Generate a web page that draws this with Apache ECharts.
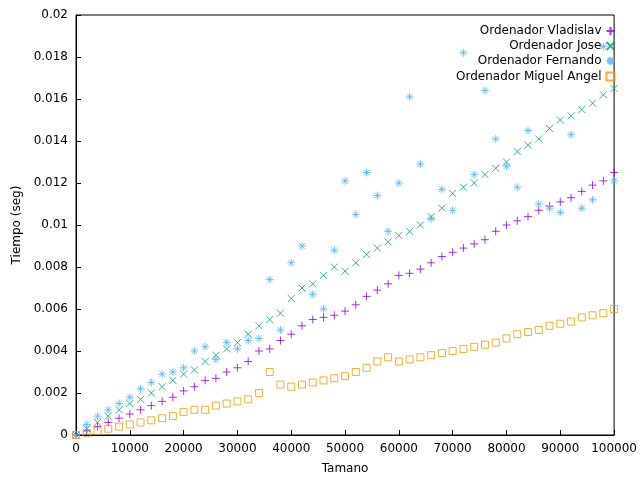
<!DOCTYPE html>
<html>
<head>
<meta charset="utf-8">
<script src="https://cdn.jsdelivr.net/npm/echarts@6/dist/echarts.min.js"></script>
</head>
<body style="margin:0">
<div id="main" style="width:640px;height:480px"></div>
<script>
var tamano = [];
for (var i = 0; i <= 50; i++) tamano.push(i * 2000);
var vladislav = [0,0.0002,0.0004,0.0006,0.0008,0.0010,0.0012,0.0014,0.0016,0.0018,0.0021,0.0023,0.0026,0.0027,0.0030,0.0032,0.0035,0.0040,0.0041,0.0045,0.0048,0.0052,0.0055,0.0056,0.0057,0.0059,0.0062,0.0066,0.0069,0.0072,0.0076,0.0077,0.0079,0.0082,0.0085,0.0087,0.0089,0.0091,0.0093,0.0097,0.0100,0.0102,0.0104,0.0107,0.0109,0.0111,0.0113,0.0116,0.0119,0.0121,0.0125];
var jose = [0,0.0003,0.0006,0.0009,0.0012,0.0015,0.0017,0.0020,0.0023,0.0026,0.0029,0.0031,0.0035,0.0038,0.0041,0.0044,0.0048,0.0052,0.0055,0.0058,0.0065,0.0070,0.0072,0.0076,0.0080,0.0078,0.0082,0.0086,0.0089,0.0092,0.0095,0.0097,0.0100,0.0104,0.0108,0.0115,0.0118,0.0120,0.0124,0.0127,0.0130,0.0135,0.0138,0.0141,0.0146,0.0150,0.0152,0.0155,0.0158,0.0162,0.0165];
var fernando = [0,0.0005,0.0009,0.0012,0.0015,0.0018,0.0022,0.0025,0.0029,0.0030,0.0032,0.0040,0.0042,0.0036,0.0044,0.0041,0.0045,0.0046,0.0074,0.0050,0.0082,0.0090,0.0067,0.0060,0.0088,0.0121,0.0105,0.0125,0.0114,0.0097,0.0120,0.0161,0.0129,0.0103,0.0117,0.0107,0.0182,0.0124,0.0164,0.0141,0.0128,0.0118,0.0145,0.0110,0.0108,0.0106,0.0143,0.0108,0.0112,0.0185,0.0121];
var miguel = [0,0.0001,0.0002,0.0003,0.0004,0.0005,0.0006,0.0007,0.0008,0.0009,0.0011,0.0012,0.0012,0.0014,0.0015,0.0016,0.0017,0.0020,0.0030,0.0024,0.0023,0.0024,0.0025,0.0026,0.0027,0.0028,0.0030,0.0032,0.0035,0.0037,0.0035,0.0036,0.0037,0.0038,0.0039,0.0040,0.0041,0.0042,0.0043,0.0044,0.0046,0.0048,0.0049,0.0050,0.0052,0.0053,0.0054,0.0056,0.0057,0.0058,0.0060];

function pts(ys) { return tamano.map(function (x, i) { return [x, ys[i]]; }); }
var plus = 'path://M0,5L10,5M5,0L5,10';
var cross = 'path://M0,0L10,10M10,0L0,10';
var star = 'path://M0,5L10,5M5,0L5,10M1.5,1.5L8.5,8.5M8.5,1.5L1.5,8.5';
function ser(name, ys, sym, col, size) {
    return {
        name: name, type: 'scatter', data: pts(ys), symbol: sym, symbolSize: size,
        itemStyle: {color: sym === 'rect' ? 'none' : col, borderColor: col, borderWidth: 1}
    };
}
var chart = echarts.init(document.getElementById('main'));
chart.setOption({
    animation: false,
    textStyle: {fontFamily: 'DejaVu Sans', fontSize: 12, color: '#000'},
    grid: {left: 76, right: 24, top: 15, bottom: 45, show: true, borderColor: '#000', borderWidth: 1},
    legend: {
        orient: 'vertical', right: 18, top: 20, align: 'right', itemGap: 3,
        itemWidth: 8, itemHeight: 8,
        textStyle: {fontSize: 12, fontFamily: 'DejaVu Sans', color: '#000'}
    },
    xAxis: {
        type: 'value', min: 0, max: 100000, interval: 10000, name: 'Tamano',
        nameLocation: 'middle', nameGap: 28,
        axisLine: {lineStyle: {color: '#000'}}, axisTick: {inside: true},
        axisLabel: {color: '#000', formatter: function (v) { return String(v); }},
        splitLine: {show: false}
    },
    yAxis: {
        type: 'value', min: 0, max: 0.02, interval: 0.002, name: 'Tiempo (seg)',
        nameLocation: 'middle', nameGap: 52,
        axisLine: {show: true, lineStyle: {color: '#000'}}, axisTick: {show: true, inside: true},
        axisLabel: {color: '#000', formatter: function (v) { return String(+v.toFixed(3)); }},
        splitLine: {show: false}
    },
    series: [
        ser('Ordenador Vladislav', vladislav, plus, '#9400d3', 8),
        ser('Ordenador Jose', jose, cross, '#009e73', 7),
        ser('Ordenador Fernando', fernando, star, '#56b4e9', 8),
        ser('Ordenador Miguel Angel', miguel, 'rect', '#e69f00', 7)
    ]
});
</script>
</body>
</html>
